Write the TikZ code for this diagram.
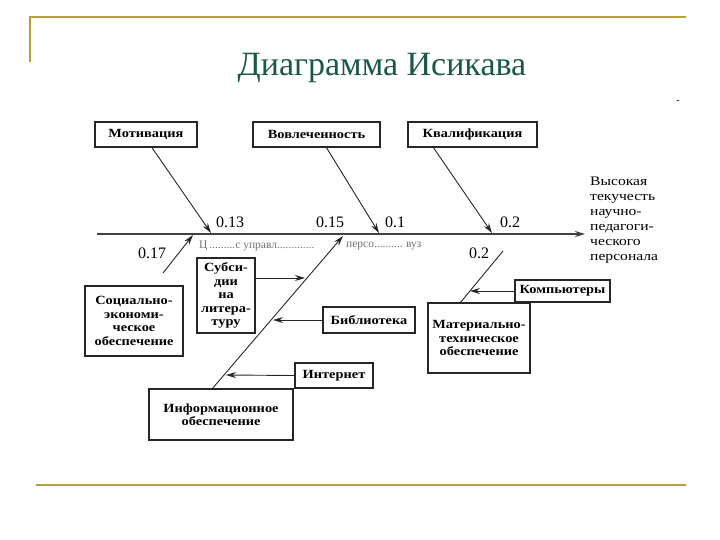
\documentclass[tikz,border=0pt]{standalone}
\usepackage{fontspec}
\setmainfont{Liberation Serif}
\newfontfamily\boxfont[FakeStretch=1.15]{Liberation Serif}
\newfontfamily\effont[FakeStretch=1.2]{Liberation Serif}
\usetikzlibrary{arrows.meta,calc}
\definecolor{gold}{RGB}{184,160,52}
\definecolor{titlegreen}{RGB}{28,88,74}
\tikzset{
  cbox/.style={draw=black!85, line width=1.4pt, fill=white, inner sep=2pt,
    font=\boxfont\bfseries\fontsize{12.5}{13.5}\selectfont, align=center},
  num/.style={font=\fontsize{16}{16}\selectfont, inner sep=0pt},
  branch/.style={draw=black!85, line width=0.9pt, -{Stealth[length=10pt,width=6pt]}},
  subar/.style={draw=black!85, line width=0.9pt, -{Stealth[length=10pt,width=6pt]}},
  faint/.style={fill=white, inner sep=1pt, text=black!55, font=\fontsize{11.5}{11.5}\selectfont, anchor=west}
}
\begin{document}
\begin{tikzpicture}[x=1pt,y=-1pt]
\useasboundingbox (0,0) rectangle (720,540);
% frame lines
\draw[gold, line width=2.5pt] (30,62) -- (30,17) -- (686,17);
\draw[gold, line width=2.5pt] (36,485) -- (686,485);
\node[font=\fontsize{34}{34}\selectfont, text=titlegreen, anchor=base] (title) at (382,76) {Диаграмма Исикава};
\node[font=\fontsize{10}{10}\selectfont, inner sep=0pt] (dash) at (678,102) {-};
% spine
\coordinate (spL) at (97,234);
\coordinate (spR) at (585,234);
\draw[black!75, line width=1.8pt, -{Stealth[length=10pt,width=6pt]}] (spL) -- (spR);
% effect
\node[anchor=north west, font=\effont\fontsize{13}{15}\selectfont, align=left, inner sep=0pt] (eff) at (590,177)
 {Высокая\\текучесть\\научно-\\педагоги-\\ческого\\персонала};
% top boxes
\node[cbox, minimum width=102pt, minimum height=25pt] (mot) at (146,134.5) {Мотивация};
\node[cbox, minimum width=127pt, minimum height=25pt] (vov) at (316.5,134.5) {Вовлеченность};
\node[cbox, minimum width=129pt, minimum height=25pt] (kval) at (472.5,134.5) {Квалификация};
\coordinate (motE) at (211,233);
\coordinate (vovE) at (379,233);
\coordinate (kvalE) at (492,233);
\draw[branch] ($(mot.south)+(6,0)$) -- (motE);
\draw[branch] ($(vov.south)+(10,0)$) -- (vovE);
\draw[branch] ($(kval.south)+(-39,0)$) -- (kvalE);
% numbers
\node[num] (n13) at (230,222) {0.13};
\node[num] (n15) at (330,222) {0.15};
\node[num] (n1) at (395,222) {0.1};
\node[num] (n2) at (510,222) {0.2};
\node[num] (n17) at (152,253) {0.17};
% bottom boxes
\node[cbox, minimum width=98pt, minimum height=70pt] (soc) at (134,321) {Социально-\\экономи-\\ческое\\обеспечение};
\node[cbox, minimum width=58pt, minimum height=75pt, font=\boxfont\bfseries\fontsize{12.5}{13.5}\selectfont] (sub) at (226,295.5) {Субси-\\дии\\на\\литера-\\туру};
\node[cbox, minimum width=92pt, minimum height=26pt] (bib) at (369,320) {Библиотека};
\node[cbox, minimum width=78pt, minimum height=25pt] (int) at (334,375.5) {Интернет};
\node[cbox, minimum width=144pt, minimum height=51pt] (inf) at (221,414.5) {Информационное\\обеспечение};
\node[cbox, minimum width=95pt, minimum height=22pt] (comp) at (562.5,291) {Компьютеры};
\node[cbox, minimum width=102pt, minimum height=70pt] (mat) at (479,338) {Материально-\\техническое\\обеспечение};
% bottom branches
\coordinate (socS) at (163,273);
\coordinate (socE) at (193,235);
\draw[branch] (socS) -- (socE);
\coordinate (infS) at (212,389);
\coordinate (infE) at (343,236);
\draw[branch] (infS) -- (infE);
\coordinate (matS) at (460,303);
\coordinate (matE) at (503,251);
\draw[black!85, line width=0.9pt] (matS) -- (matE);
% sub-cause arrows
\coordinate (subE) at (305,278);
\coordinate (bibE) at (273,320);
\coordinate (intE) at (226,375);
\coordinate (compE) at (470,291);
\draw[subar] (sub.east |- subE) -- (subE);
\draw[subar] (bib.west) -- (bibE);
\draw[subar] (int.west) -- (intE);
\draw[subar] (comp.west) -- (compE);
% faint label under spine
\node[faint] (lbl1) at (198,246) {Ц{\,}.........с управл.............};
\node[faint] (lbl2) at (345,246) {персо..........\;вуз};
\node[num, fill=white, inner sep=1pt] (n2b) at (479,253) {0.2};
\end{tikzpicture}
\end{document}
